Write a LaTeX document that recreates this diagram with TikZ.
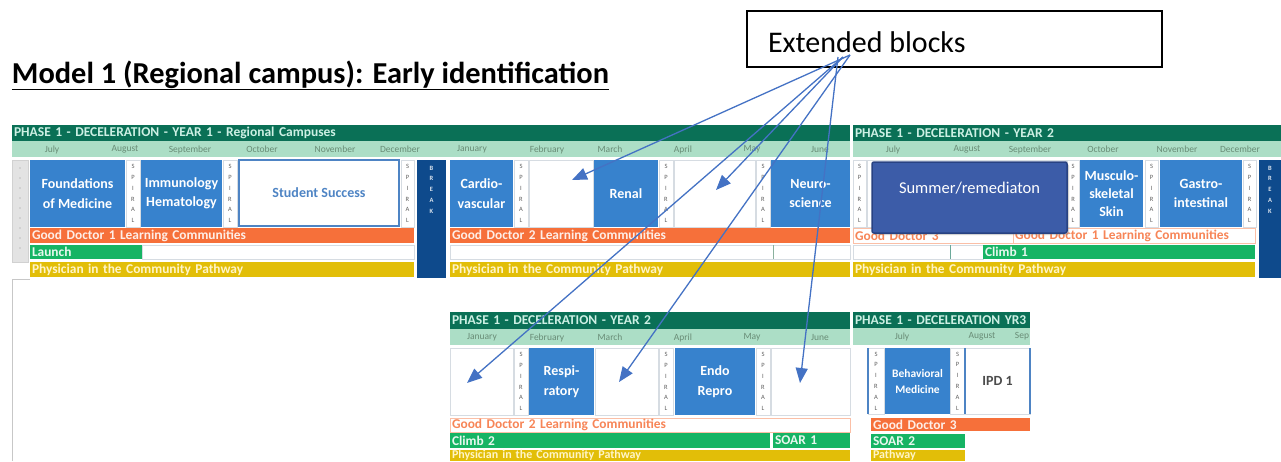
\documentclass[tikz,border=0pt]{standalone}
\usepackage{fontspec}
\setmainfont{Carlito}
\usetikzlibrary{arrows.meta,shadows}

\definecolor{hdr}{RGB}{10,112,86}
\definecolor{hdrtxt}{RGB}{205,240,228}
\definecolor{monthbg}{RGB}{172,222,198}
\definecolor{monthtxt}{RGB}{105,140,118}
\definecolor{blk}{RGB}{55,130,205}
\definecolor{brk}{RGB}{14,74,140}
\definecolor{orng}{RGB}{246,112,58}
\definecolor{grn}{RGB}{22,180,100}
\definecolor{ylw}{RGB}{226,190,8}
\definecolor{ylwtxt}{RGB}{255,245,200}
\definecolor{arr}{RGB}{68,114,196}
\definecolor{summer}{RGB}{60,92,168}
\definecolor{summerdk}{RGB}{40,66,130}
\definecolor{ssblue}{RGB}{78,132,196}
\definecolor{gridln}{RGB}{214,220,226}
\definecolor{spiraltxt}{RGB}{95,95,95}

% box from its corners: style, name, x1, y1, x2, y2, text
\newcommand\mkbox[7]{%
  \pgfmathsetmacro\mkw{#5-#3}%
  \pgfmathsetmacro\mkh{#6-#4}%
  \node[#1, minimum width=\mkw pt, minimum height=\mkh pt, anchor=north west] (#2) at (#3,#4) {#7};}
% bar with text set at its left end
\newcommand\mkbar[7]{%
  \pgfmathsetmacro\mkw{#5-#3-4}%
  \pgfmathsetmacro\mkh{#6-#4}%
  \node[#1, text width=\mkw pt, inner xsep=2pt, inner ysep=0pt, align=left,
        minimum height=\mkh pt, anchor=north west] (#2) at (#3,#4) {#7};}

\begin{document}
\begin{tikzpicture}[x=1pt,y=-1pt,
  every node/.style={inner sep=0pt, outer sep=0pt},
  hdrbar/.style={fill=hdr, text=hdrtxt, font=\bfseries\fontsize{13.5}{15}\selectfont},
  monthrow/.style={fill=monthbg},
  mon/.style={text=monthtxt, font=\fontsize{9.5}{11}\selectfont},
  course/.style={fill=blk, text=white, align=center, font=\bfseries\fontsize{14}{19.5}\selectfont},
  blank/.style={fill=white, draw=gridln, line width=0.6pt},
  spiral/.style={fill=white, draw=gridln, line width=0.6pt, align=center,
                 text=spiraltxt, font=\fontsize{6.5}{10.8}\selectfont},
  brkbar/.style={fill=brk},
  brktxt/.style={text=white!85!brk, align=center, font=\bfseries\fontsize{6.5}{10.7}\selectfont},
  gdbar/.style={fill=orng, text=white!88!orng, font=\bfseries\fontsize{13.4}{14}\selectfont},
  gdpale/.style={fill=white, draw=orng!45, line width=0.6pt, text=orng!85!white, font=\bfseries\fontsize{13.4}{14}\selectfont},
  grnbar/.style={fill=grn, text=white!90!grn, font=\bfseries\fontsize{13.4}{14}\selectfont},
  ylwbar/.style={fill=ylw, text=ylwtxt, font=\bfseries\fontsize{13.4}{14}\selectfont},
  pointer/.style={draw=arr, line width=1.3pt, -{Triangle[length=15pt,width=12pt]}},
]
\useasboundingbox (0,0) rectangle (1281,461);

% ---------------- title and callout ----------------
\node[anchor=base west, font=\bfseries\fontsize{30.4}{32}\selectfont] (title) at (12,83)
  {\underline{Model 1 (Regional campus): Early identification}};
\mkbox{draw=black, line width=1.3pt}{callout}{747}{11}{1162}{67}{}
\node[anchor=west, font=\fontsize{30}{34}\selectfont] (calltxt) at (768,42) {Extended blocks};
\coordinate (srcA) at (850,55);
\coordinate (srcB) at (843,57);
\coordinate (srcC) at (838,57);

% ---------------- top row: year 1 (left, middle) ----------------
\mkbar{hdrbar}{hdrL}{12}{125}{850}{141}{PHASE 1 - DECELERATION - YEAR 1 - Regional Campuses}
\mkbox{monthrow}{monL}{12}{141}{850}{157}{}
\foreach \mx/\mt in {52/July,125/August,190/September,262/October,335/November,400/December,
                     472/January,547/February,610/March,683/April,752/May,820/June}
  \node[mon] (mL-\mt) at (\mx,149.5) {\mt};

% gray row-label strip
\mkbox{fill=black!11, draw=black!18, line width=0.5pt}{strip}{12}{160}{28}{262}{}
\foreach \dy in {168,178,...,255}
  \fill[black!40] (20,\dy) circle (0.7pt);
\draw[black!22, line width=0.7pt] (12,461) -- (12,279) -- (30,279);

\mkbox{course}{fom}{30}{160}{125}{227}{Foundations\\of Medicine}
\mkbox{spiral}{sp1}{126}{160}{140}{227}{S\\P\\I\\R\\A\\L}
\mkbox{course}{imm}{141}{160}{222}{227}{Immunology\\Hematology}
\mkbox{spiral}{sp2}{223}{160}{237}{227}{S\\P\\I\\R\\A\\L}
\mkbox{fill=white, draw=ssblue, line width=2pt, text=ssblue, font=\bfseries\fontsize{14}{16}\selectfont}{ss}{239}{160}{399}{226}{Student Success}
\mkbox{spiral}{sp3}{401}{160}{414}{227}{S\\P\\I\\R\\A\\L}
\mkbox{brkbar}{brk1}{417}{160}{446}{278}{}
\node[brktxt, anchor=north] (brk1t) at (431.5,166) {B\\R\\E\\A\\K};

\mkbar{gdbar}{gd1}{30}{228}{414}{243}{Good Doctor 1 Learning Communities}
\mkbar{grnbar}{launch}{30}{245}{142}{259}{Launch}
\mkbox{blank}{lrow}{142}{245}{414}{259}{}
\mkbar{ylwbar}{pic1}{30}{262}{414}{277}{Physician in the Community Pathway}

\mkbox{course}{cardio}{450}{160}{513}{227}{Cardio-\\vascular}
\mkbox{spiral}{sp4}{514}{160}{528}{227}{S\\P\\I\\R\\A\\L}
\mkbox{blank}{feb1}{529}{160}{593}{227}{}
\mkbox{course}{renal}{594}{160}{658}{227}{Renal}
\mkbox{spiral}{sp5}{659}{160}{673}{227}{S\\P\\I\\R\\A\\L}
\mkbox{blank}{apr1}{674}{160}{755}{227}{}
\mkbox{spiral}{sp6}{756}{160}{770}{227}{S\\P\\I\\R\\A\\L}
\mkbox{course}{neuro}{771}{160}{850}{227}{Neuro-\\science}

\mkbar{gdbar}{gd2}{450}{228}{850}{243}{Good Doctor 2 Learning Communities}
\mkbox{blank}{mrowA}{450}{245}{773}{259}{}
\mkbox{blank}{mrowB}{773}{245}{850}{259}{}
\draw[monthbg!80!black, line width=0.8pt] (mrowB.north west) -- (mrowB.south west);
\mkbar{ylwbar}{pic2}{450}{262}{850}{277}{Physician in the Community Pathway}

% ---------------- top row: year 2 (right) ----------------
\mkbar{hdrbar}{hdrR}{853}{125}{1281}{141}{PHASE 1 - DECELERATION - YEAR 2}
\mkbox{monthrow}{monR}{853}{141}{1281}{157}{}
\foreach \mx/\mt in {893/July,967/August,1030/September,1103/October,1177/November,1240/December}
  \node[mon] (mR-\mt) at (\mx,149.5) {\mt};

\mkbox{spiral}{sp7}{853}{160}{866}{227}{S\\P\\I\\R\\A\\L}
\mkbox{blank}{sumcell}{867}{160}{1066}{227}{}
\mkbox{spiral}{sp8}{1067}{160}{1079}{227}{S\\P\\I\\R\\A\\L}
\mkbox{course, font=\bfseries\fontsize{14}{18}\selectfont}{msk}{1080}{160}{1143}{227}{Musculo-\\skeletal\\Skin}
\mkbox{spiral}{sp9}{1145}{160}{1158}{227}{S\\P\\I\\R\\A\\L}
\mkbox{course}{gastro}{1160}{160}{1242}{227}{Gastro-\\intestinal}
\mkbox{spiral}{sp10}{1243}{160}{1256}{227}{S\\P\\I\\R\\A\\L}
\mkbox{brkbar}{brk2}{1259}{160}{1281}{278}{}
\node[brktxt, anchor=north] (brk2t) at (1270,166) {B\\R\\E\\A\\K};

\mkbar{gdpale}{gd3}{853}{228}{1013}{243}{Good Doctor 3}
\mkbar{gdpale}{gd1b}{1013}{228}{1255}{243}{Good Doctor 1 Learning Communities}
\mkbox{blank}{rrowA}{853}{245}{950}{259}{}
\mkbox{blank}{rrowB}{950}{245}{983}{259}{}
\draw[hdr!60, line width=0.9pt] (rrowB.north west) -- (rrowB.south west);
\mkbar{grnbar}{climb1}{983}{245}{1255}{259}{Climb 1}
\mkbar{ylwbar}{pic3}{853}{262}{1255}{277}{Physician in the Community Pathway}

% summer block laid over year 2
\mkbox{fill=summer, draw=summerdk, line width=1.5pt, rounded corners=2pt,
       drop shadow={shadow xshift=2pt, shadow yshift=-2pt, opacity=0.35}}{summer}{872}{162}{1067}{233}{}
\node[text=white, font=\fontsize{16.5}{20}\selectfont] (sumtxt) at (969.5,188) {Summer/remediaton};

% ---------------- bottom row: year 2 (middle) ----------------
\mkbar{hdrbar}{hdrB}{450}{312}{850}{329}{PHASE 1 - DECELERATION - YEAR 2}
\mkbox{monthrow}{monB}{450}{329}{850}{345}{}
\foreach \mx/\mt in {482/January,547/February,610/March,683/April,752/May,820/June}
  \node[mon] (mB-\mt) at (\mx,337.5) {\mt};

\mkbox{blank}{jan2}{450}{348}{513}{415}{}
\mkbox{spiral}{sp11}{514}{348}{528}{415}{S\\P\\I\\R\\A\\L}
\mkbox{course}{resp}{529}{348}{594}{415}{Respi-\\ratory}
\mkbox{blank}{mar2}{595}{348}{658}{415}{}
\mkbox{spiral}{sp12}{659}{348}{673}{415}{S\\P\\I\\R\\A\\L}
\mkbox{course}{endo}{675}{348}{755}{415}{Endo\\Repro}
\mkbox{spiral}{sp13}{756}{348}{770}{415}{S\\P\\I\\R\\A\\L}
\mkbox{blank}{jun2}{771}{348}{850}{415}{}

\mkbar{gdpale}{gd2b}{450}{418}{850}{432}{Good Doctor 2 Learning Communities}
\mkbar{grnbar}{climb2}{450}{433}{770}{448}{Climb 2}
\mkbar{grnbar}{soar1}{773}{433}{850}{448}{SOAR 1}
\mkbar{ylwbar, font=\bfseries\fontsize{12}{12}\selectfont}{pic4}{450}{450}{850}{461}{Physician in the Community Pathway}

% ---------------- bottom row: year 3 (right) ----------------
\mkbar{hdrbar}{hdrC}{853}{312}{1030}{328}{PHASE 1 - DECELERATION YR3}
\mkbox{monthrow}{monC}{853}{328}{1030}{345}{}
\node[mon] (mC-July) at (902,336.5) {July};
\node[mon] (mC-Aug) at (982,336.5) {August};
\node[mon] (mC-Sep) at (1022,336.5) {Sep};

\mkbox{spiral}{sp14}{868}{348}{884}{414}{S\\P\\I\\R\\A\\L}
\mkbox{course, font=\bfseries\fontsize{11.5}{16}\selectfont}{behav}{885}{348}{950}{414}{Behavioral\\Medicine}
\mkbox{spiral}{sp15}{950}{348}{965}{414}{S\\P\\I\\R\\A\\L}
\mkbox{blank, text=black!70, font=\bfseries\fontsize{14}{16}\selectfont}{ipd}{965}{348}{1030}{414}{IPD 1}
\draw[ssblue, line width=1.8pt] (sp14.north west) -- (sp14.south west)
  (ipd.north west) -- (ipd.south west) (ipd.north east) -- (ipd.south east);

\mkbar{gdbar}{gd3b}{871}{418}{1030}{431}{Good Doctor 3}
\mkbar{grnbar}{soar2}{871}{434}{965}{448}{SOAR 2}
\mkbar{ylwbar, font=\bfseries\fontsize{12}{12}\selectfont}{pathw}{871}{450}{965}{461}{Pathway}

% ---------------- pointers from the callout ----------------
\coordinate (tFeb) at (572,180);
\coordinate (tApr) at (716,190);
\coordinate (tJan) at (467,383);
\coordinate (tMar) at (619,382);
\coordinate (tJun) at (800,383);
\draw[pointer] (srcA) -- (tFeb);
\draw[pointer] (srcB) -- (tApr);
\draw[pointer] (srcB) -- (tJan);
\draw[pointer] (srcA) -- (tMar);
\draw[pointer] (srcC) -- (tJun);
\end{tikzpicture}
\end{document}
